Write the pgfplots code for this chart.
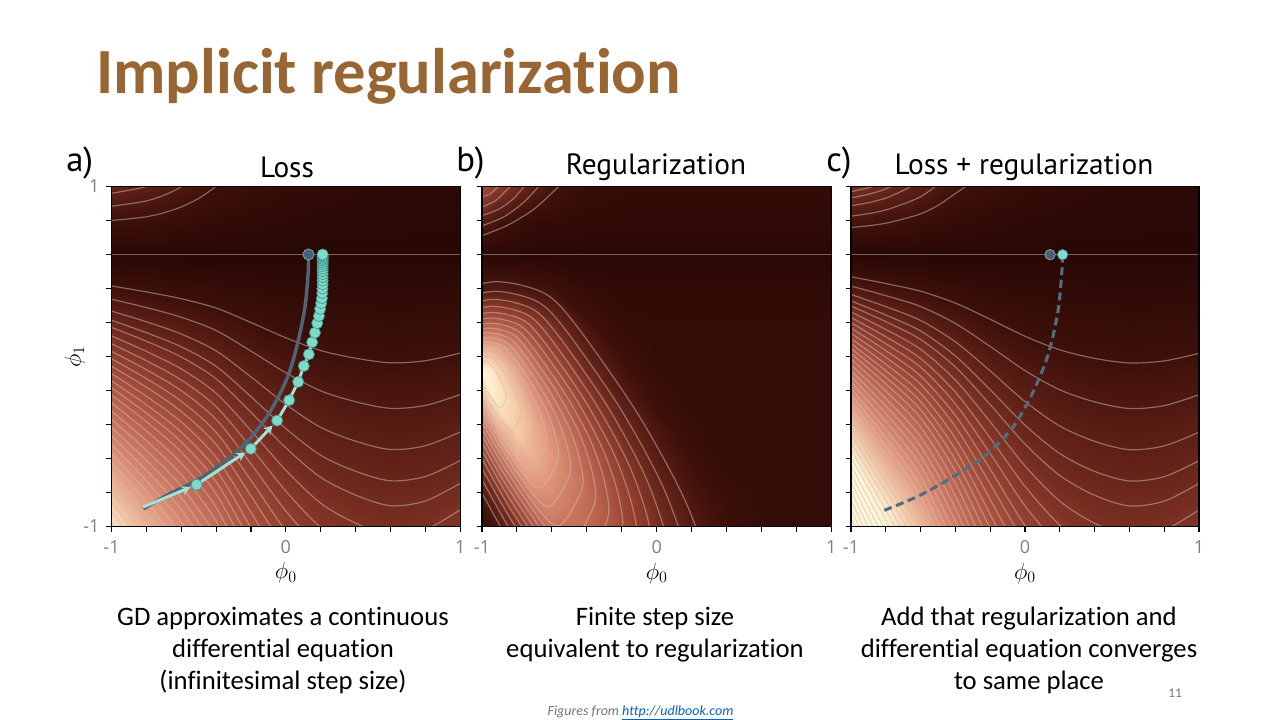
\documentclass[border=0pt]{standalone}
\usepackage{fontspec}
\usepackage{pgfplots}
\usepackage{pgfplotstable}
\pgfplotsset{compat=1.18}
\usetikzlibrary{arrows.meta}
\setmainfont[Ligatures=NoCommon]{Carlito}
\newfontfamily\panelfont{PT Sans}
\newfontfamily\tickfont{Open Sans}

\definecolor{titlebrown}{RGB}{153,102,51}
\definecolor{contourgray}{RGB}{200,190,188}
\definecolor{tickgray}{RGB}{128,128,128}
\definecolor{gdcyan}{RGB}{128,218,202}
\definecolor{gdcyanedge}{RGB}{62,150,140}
\definecolor{gdline}{RGB}{165,226,214}
\definecolor{odeblue}{RGB}{80,100,118}
\definecolor{odedot}{RGB}{70,98,122}
\definecolor{odedotedge}{RGB}{140,155,168}
\definecolor{dashblue}{RGB}{84,108,128}
\definecolor{linkblue}{RGB}{5,99,193}
\definecolor{footgray}{RGB}{118,118,118}

% loss landscape on a grid (phi0, phi1, shade level)
\pgfplotstableread[row sep=\\]{
x y c\\
-1 -1 8.65\\ -0.9 -1 7.88\\ -0.8 -1 7.27\\ -0.6 -1 6.15\\ -0.4 -1 5.08\\ -0.2 -1 4.00\\ 0 -1 3.27\\ 0.2 -1 2.83\\ 0.4 -1 2.62\\ 0.6 -1 2.51\\ 0.8 -1 2.56\\ 1 -1 2.76\\
-1 -0.9 8.11\\ -0.9 -0.9 7.39\\ -0.8 -0.9 6.82\\ -0.6 -0.9 5.77\\ -0.4 -0.9 4.76\\ -0.2 -0.9 3.75\\ 0 -0.9 3.06\\ 0.2 -0.9 2.65\\ 0.4 -0.9 2.46\\ 0.6 -0.9 2.35\\ 0.8 -0.9 2.40\\ 1 -0.9 2.59\\
-1 -0.8 7.57\\ -0.9 -0.8 6.90\\ -0.8 -0.8 6.36\\ -0.6 -0.8 5.38\\ -0.4 -0.8 4.44\\ -0.2 -0.8 3.50\\ 0 -0.8 2.86\\ 0.2 -0.8 2.48\\ 0.4 -0.8 2.30\\ 0.6 -0.8 2.20\\ 0.8 -0.8 2.24\\ 1 -0.8 2.41\\
-1 -0.6 6.49\\ -0.9 -0.6 5.91\\ -0.8 -0.6 5.45\\ -0.6 -0.6 4.62\\ -0.4 -0.6 3.81\\ -0.2 -0.6 3.00\\ 0 -0.6 2.45\\ 0.2 -0.6 2.12\\ 0.4 -0.6 1.97\\ 0.6 -0.6 1.88\\ 0.8 -0.6 1.92\\ 1 -0.6 2.07\\
-1 -0.4 5.41\\ -0.9 -0.4 4.93\\ -0.8 -0.4 4.55\\ -0.6 -0.4 3.85\\ -0.4 -0.4 3.17\\ -0.2 -0.4 2.50\\ 0 -0.4 2.04\\ 0.2 -0.4 1.77\\ 0.4 -0.4 1.64\\ 0.6 -0.4 1.57\\ 0.8 -0.4 1.60\\ 1 -0.4 1.72\\
-1 -0.2 4.32\\ -0.9 -0.2 3.94\\ -0.8 -0.2 3.64\\ -0.6 -0.2 3.08\\ -0.4 -0.2 2.54\\ -0.2 -0.2 2.00\\ 0 -0.2 1.63\\ 0.2 -0.2 1.42\\ 0.4 -0.2 1.31\\ 0.6 -0.2 1.26\\ 0.8 -0.2 1.28\\ 1 -0.2 1.38\\
-1 0 3.24\\ -0.9 0 2.96\\ -0.8 0 2.73\\ -0.6 0 2.31\\ -0.4 0 1.90\\ -0.2 0 1.50\\ 0 0 1.22\\ 0.2 0 1.06\\ 0.4 0 0.98\\ 0.6 0 0.94\\ 0.8 0 0.96\\ 1 0 1.03\\
-1 0.2 2.16\\ -0.9 0.2 1.97\\ -0.8 0.2 1.82\\ -0.6 0.2 1.54\\ -0.4 0.2 1.27\\ -0.2 0.2 1.00\\ 0 0.2 0.82\\ 0.2 0.2 0.71\\ 0.4 0.2 0.66\\ 0.6 0.2 0.63\\ 0.8 0.2 0.64\\ 1 0.2 0.69\\
-1 0.4 1.08\\ -0.9 0.4 0.99\\ -0.8 0.4 0.91\\ -0.6 0.4 0.77\\ -0.4 0.4 0.63\\ -0.2 0.4 0.50\\ 0 0.4 0.41\\ 0.2 0.4 0.35\\ 0.4 0.4 0.33\\ 0.6 0.4 0.31\\ 0.8 0.4 0.32\\ 1 0.4 0.34\\
-1 0.6 0\\ -0.9 0.6 0\\ -0.8 0.6 0\\ -0.6 0.6 0\\ -0.4 0.6 0\\ -0.2 0.6 0\\ 0 0.6 0\\ 0.2 0.6 0\\ 0.4 0.6 0\\ 0.6 0.6 0\\ 0.8 0.6 0\\ 1 0.6 0\\
-1 0.8 1.00\\ -0.9 0.8 0.95\\ -0.8 0.8 0.90\\ -0.6 0.8 0.71\\ -0.4 0.8 0.50\\ -0.2 0.8 0.36\\ 0 0.8 0.27\\ 0.2 0.8 0.20\\ 0.4 0.8 0.15\\ 0.6 0.8 0.13\\ 0.8 0.8 0.11\\ 1 0.8 0.09\\
-1 1 2.00\\ -0.9 1 1.90\\ -0.8 1 1.80\\ -0.6 1 1.43\\ -0.4 1 1.00\\ -0.2 1 0.73\\ 0 1 0.53\\ 0.2 1 0.40\\ 0.4 1 0.31\\ 0.6 1 0.25\\ 0.8 1 0.21\\ 1 1 0.18\\
}\lossA

% regularization term on a grid
\pgfplotstableread[row sep=\\]{
x y c\\
-1 -1 0.7\\ -0.95 -1 1.0\\ -0.9 -1 1.4\\ -0.8 -1 2.6\\ -0.7 -1 4.1\\ -0.6 -1 5.35\\ -0.4 -1 4.9\\ -0.2 -1 3.7\\ 0 -1 2.5\\ 0.2 -1 1.6\\ 0.4 -1 0.97\\ 0.7 -1 0.5\\ 1 -1 0.5\\
-1 -0.8 1.5\\ -0.95 -0.8 2.1\\ -0.9 -0.8 2.85\\ -0.8 -0.8 4.6\\ -0.7 -0.8 6.2\\ -0.6 -0.8 6.2\\ -0.4 -0.8 5.0\\ -0.2 -0.8 3.45\\ 0 -0.8 2.2\\ 0.2 -0.8 1.3\\ 0.4 -0.8 0.75\\ 0.7 -0.8 0.5\\ 1 -0.8 0.5\\
-1 -0.6 3.0\\ -0.95 -0.6 4.0\\ -0.9 -0.6 5.0\\ -0.8 -0.6 6.95\\ -0.7 -0.6 7.15\\ -0.6 -0.6 6.5\\ -0.4 -0.6 4.6\\ -0.2 -0.6 2.9\\ 0 -0.6 1.7\\ 0.2 -0.6 0.95\\ 0.4 -0.6 0.5\\ 0.7 -0.6 0.5\\ 1 -0.6 0.5\\
-1 -0.45 4.7\\ -0.95 -0.45 5.85\\ -0.9 -0.45 7.0\\ -0.8 -0.45 7.9\\ -0.7 -0.45 7.2\\ -0.6 -0.45 6.2\\ -0.4 -0.45 4.0\\ -0.2 -0.45 2.4\\ 0 -0.45 1.35\\ 0.2 -0.45 0.73\\ 0.4 -0.45 0.5\\ 0.7 -0.45 0.5\\ 1 -0.45 0.5\\
-1 -0.3 6.7\\ -0.95 -0.3 7.85\\ -0.9 -0.3 8.5\\ -0.8 -0.3 7.9\\ -0.7 -0.3 6.75\\ -0.6 -0.3 5.5\\ -0.4 -0.3 3.35\\ -0.2 -0.3 1.9\\ 0 -0.3 1.0\\ 0.2 -0.3 0.55\\ 0.4 -0.3 0.5\\ 0.7 -0.3 0.5\\ 1 -0.3 0.5\\
-1 -0.2 8.0\\ -0.95 -0.2 8.8\\ -0.9 -0.2 8.6\\ -0.8 -0.2 7.5\\ -0.7 -0.2 6.2\\ -0.6 -0.2 4.9\\ -0.4 -0.2 2.9\\ -0.2 -0.2 1.5\\ 0 -0.2 0.8\\ 0.2 -0.2 0.5\\ 0.4 -0.2 0.5\\ 0.7 -0.2 0.5\\ 1 -0.2 0.5\\
-1 -0.08 9.0\\ -0.95 -0.08 8.7\\ -0.9 -0.08 8.1\\ -0.8 -0.08 6.8\\ -0.7 -0.08 5.4\\ -0.6 -0.08 4.2\\ -0.4 -0.08 2.3\\ -0.2 -0.08 1.2\\ 0 -0.08 0.6\\ 0.2 -0.08 0.5\\ 0.4 -0.08 0.5\\ 0.7 -0.08 0.5\\ 1 -0.08 0.5\\
-1 0.05 7.2\\ -0.95 0.05 7.15\\ -0.9 0.05 6.85\\ -0.8 0.05 5.7\\ -0.7 0.05 4.4\\ -0.6 0.05 3.3\\ -0.4 0.05 1.7\\ -0.2 0.05 0.85\\ 0 0.05 0.5\\ 0.2 0.05 0.5\\ 0.4 0.05 0.5\\ 0.7 0.05 0.5\\ 1 0.05 0.5\\
-1 0.2 4.4\\ -0.95 0.2 4.45\\ -0.9 0.2 4.4\\ -0.8 0.2 3.9\\ -0.7 0.2 3.2\\ -0.6 0.2 2.4\\ -0.4 0.2 1.15\\ -0.2 0.2 0.55\\ 0 0.2 0.5\\ 0.2 0.2 0.5\\ 0.4 0.2 0.5\\ 0.7 0.2 0.5\\ 1 0.2 0.5\\
-1 0.4 1.5\\ -0.95 0.4 1.5\\ -0.9 0.4 1.5\\ -0.8 0.4 1.4\\ -0.7 0.4 1.2\\ -0.6 0.4 1.0\\ -0.4 0.4 0.55\\ -0.2 0.4 0.4\\ 0 0.4 0.4\\ 0.2 0.4 0.4\\ 0.4 0.4 0.4\\ 0.7 0.4 0.4\\ 1 0.4 0.4\\
-1 0.6 0.1\\ -0.95 0.6 0.1\\ -0.9 0.6 0.1\\ -0.8 0.6 0.1\\ -0.7 0.6 0.1\\ -0.6 0.6 0.1\\ -0.4 0.6 0.1\\ -0.2 0.6 0.1\\ 0 0.6 0.1\\ 0.2 0.6 0.1\\ 0.4 0.6 0.1\\ 0.7 0.6 0.1\\ 1 0.6 0.1\\
-1 0.8 1.75\\ -0.95 0.8 1.45\\ -0.9 0.8 1.15\\ -0.8 0.8 0.8\\ -0.7 0.8 0.55\\ -0.6 0.8 0.5\\ -0.4 0.8 0.4\\ -0.2 0.8 0.4\\ 0 0.8 0.4\\ 0.2 0.8 0.4\\ 0.4 0.8 0.4\\ 0.7 0.8 0.4\\ 1 0.8 0.4\\
-1 1 3.7\\ -0.95 1 3.3\\ -0.9 1 2.9\\ -0.8 1 2.25\\ -0.7 1 1.7\\ -0.6 1 1.2\\ -0.4 1 0.6\\ -0.2 1 0.5\\ 0 1 0.5\\ 0.2 1 0.5\\ 0.4 1 0.5\\ 0.7 1 0.5\\ 1 1 0.5\\
}\regB

% loss plus regularization on a grid
\pgfplotstableread[row sep=\\]{
x y c\\
-1 -1 9\\ -0.9 -1 9\\ -0.8 -1 9\\ -0.6 -1 7.44\\ -0.4 -1 5.61\\ -0.2 -1 4.21\\ 0 -1 3.33\\ 0.2 -1 2.86\\ 0.4 -1 2.62\\ 0.6 -1 2.51\\ 0.8 -1 2.56\\ 1 -1 2.76\\
-1 -0.9 9\\ -0.9 -0.9 9\\ -0.8 -0.9 8.82\\ -0.6 -0.9 6.98\\ -0.4 -0.9 5.26\\ -0.2 -0.9 3.95\\ 0 -0.9 3.13\\ 0.2 -0.9 2.68\\ 0.4 -0.9 2.46\\ 0.6 -0.9 2.35\\ 0.8 -0.9 2.40\\ 1 -0.9 2.59\\
-1 -0.8 9\\ -0.9 -0.8 9\\ -0.8 -0.8 8.24\\ -0.6 -0.8 6.51\\ -0.4 -0.8 4.91\\ -0.2 -0.8 3.68\\ 0 -0.8 2.92\\ 0.2 -0.8 2.50\\ 0.4 -0.8 2.30\\ 0.6 -0.8 2.20\\ 0.8 -0.8 2.24\\ 1 -0.8 2.41\\
-1 -0.6 9\\ -0.9 -0.6 8.00\\ -0.8 -0.6 7.06\\ -0.6 -0.6 5.58\\ -0.4 -0.6 4.21\\ -0.2 -0.6 3.16\\ 0 -0.6 2.50\\ 0.2 -0.6 2.14\\ 0.4 -0.6 1.97\\ 0.6 -0.6 1.88\\ 0.8 -0.6 1.92\\ 1 -0.6 2.07\\
-1 -0.4 7.69\\ -0.9 -0.4 6.67\\ -0.8 -0.4 5.88\\ -0.6 -0.4 4.65\\ -0.4 -0.4 3.51\\ -0.2 -0.4 2.63\\ 0 -0.4 2.08\\ 0.2 -0.4 1.79\\ 0.4 -0.4 1.64\\ 0.6 -0.4 1.57\\ 0.8 -0.4 1.60\\ 1 -0.4 1.72\\
-1 -0.2 6.15\\ -0.9 -0.2 5.33\\ -0.8 -0.2 4.71\\ -0.6 -0.2 3.72\\ -0.4 -0.2 2.81\\ -0.2 -0.2 2.11\\ 0 -0.2 1.67\\ 0.2 -0.2 1.43\\ 0.4 -0.2 1.31\\ 0.6 -0.2 1.26\\ 0.8 -0.2 1.28\\ 1 -0.2 1.38\\
-1 0 4.62\\ -0.9 0 4.00\\ -0.8 0 3.53\\ -0.6 0 2.79\\ -0.4 0 2.11\\ -0.2 0 1.58\\ 0 0 1.25\\ 0.2 0 1.07\\ 0.4 0 0.98\\ 0.6 0 0.94\\ 0.8 0 0.96\\ 1 0 1.03\\
-1 0.2 3.08\\ -0.9 0.2 2.67\\ -0.8 0.2 2.35\\ -0.6 0.2 1.86\\ -0.4 0.2 1.40\\ -0.2 0.2 1.05\\ 0 0.2 0.83\\ 0.2 0.2 0.71\\ 0.4 0.2 0.66\\ 0.6 0.2 0.63\\ 0.8 0.2 0.64\\ 1 0.2 0.69\\
-1 0.4 1.54\\ -0.9 0.4 1.33\\ -0.8 0.4 1.18\\ -0.6 0.4 0.93\\ -0.4 0.4 0.70\\ -0.2 0.4 0.53\\ 0 0.4 0.42\\ 0.2 0.4 0.36\\ 0.4 0.4 0.33\\ 0.6 0.4 0.31\\ 0.8 0.4 0.32\\ 1 0.4 0.34\\
-1 0.6 0\\ -0.9 0.6 0\\ -0.8 0.6 0\\ -0.6 0.6 0\\ -0.4 0.6 0\\ -0.2 0.6 0\\ 0 0.6 0\\ 0.2 0.6 0\\ 0.4 0.6 0\\ 0.6 0.6 0\\ 0.8 0.6 0\\ 1 0.6 0\\
-1 0.8 1.25\\ -0.9 0.8 1.18\\ -0.8 0.8 1.08\\ -0.6 0.8 0.83\\ -0.4 0.8 0.56\\ -0.2 0.8 0.38\\ 0 0.8 0.27\\ 0.2 0.8 0.20\\ 0.4 0.8 0.15\\ 0.6 0.8 0.13\\ 0.8 0.8 0.11\\ 1 0.8 0.09\\
-1 1 2.50\\ -0.9 1 2.35\\ -0.8 1 2.16\\ -0.6 1 1.67\\ -0.4 1 1.11\\ -0.2 1 0.77\\ 0 1 0.53\\ 0.2 1 0.40\\ 0.4 1 0.31\\ 0.6 1 0.25\\ 0.8 1 0.21\\ 1 1 0.18\\
}\sumC

\pgfplotsset{
  colormap={heat}{rgb255(0pt)=(40,7,4); rgb255(1pt)=(62,16,10); rgb255(2pt)=(100,35,24); rgb255(3pt)=(140,58,42); rgb255(4pt)=(170,82,62); rgb255(5pt)=(194,108,86); rgb255(6pt)=(215,135,110); rgb255(7pt)=(234,168,138); rgb255(8pt)=(247,206,170); rgb255(9pt)=(255,245,215)},
  landscape/.style={
    scale only axis, width=261.5pt, height=255pt,
    xmin=-1, xmax=1, ymin=-1, ymax=1,
    axis on top,
    colormap name=heat, point meta min=0, point meta max=9,
    xtick={-1,-0.8,-0.6,-0.4,-0.2,0,0.2,0.4,0.6,0.8,1},
    ytick={-1,-0.8,-0.6,-0.4,-0.2,0,0.2,0.4,0.6,0.8,1},
    xticklabels={-1,{},{},{},{},0,{},{},{},{},1},
    yticklabels={-1,{},{},{},{},{},{},{},{},{},1},
    tick align=outside, tick pos=left, major tick length=4pt,
    tick style={black, line width=0.8pt},
    axis line style={black, line width=0.9pt},
    ticklabel style={font=\tickfont\fontsize{13.5}{15}\selectfont, text=tickgray},
    xticklabel style={yshift=-3pt},
    yticklabel style={xshift=-1.5pt},
    xlabel={$\phi_0$},
    label style={font=\fontsize{18}{20}\selectfont},
    xlabel style={at={(axis description cs:0.5,-0.137)}, anchor=center},
    ylabel style={at={(axis description cs:-0.105,0.5)}, anchor=center},
  },
  noylabels/.style={yticklabels={}, ylabel={}},
  ctr/.style={draw=contourgray, draw opacity=0.5, line width=0.9pt, smooth, mark=none},
}

\begin{document}
\begin{tikzpicture}
\begin{scope}[x=0.75pt,y=-0.75pt]
\path[use as bounding box] (0,0) rectangle (1280,720);
\fill[white] (0,0) rectangle (1280,720);
\node[anchor=base west, inner sep=0pt, text=titlebrown, font=\fontsize{48.3}{50}\selectfont\bfseries] at (96,93.5) {Implicit regularization};
\node[anchor=base west, inner sep=0pt, font=\panelfont\fontsize{26}{28}\selectfont] at (66,171.7) {a)};
\node[anchor=base west, inner sep=0pt, font=\panelfont\fontsize{26}{28}\selectfont] at (456,171.7) {b)};
\node[anchor=base west, inner sep=0pt, font=\panelfont\fontsize{26}{28}\selectfont] at (826,171.7) {c)};
\node[anchor=base, inner sep=0pt, font=\panelfont\fontsize{22}{24}\selectfont] at (287,178) {Loss};
\node[anchor=base, inner sep=0pt, font=\panelfont\fontsize{22}{24}\selectfont] at (656,175) {Regularization};
\node[anchor=base, inner sep=0pt, font=\panelfont\fontsize{22}{24}\selectfont] at (1024,175) {Loss + regularization};
\begin{scope}[every node/.style={anchor=base, inner sep=0pt, font=\fontsize{20}{24}\selectfont}]
\node at (283,625) {GD approximates a continuous};
\node at (283,657) {differential equation};
\node at (283,689) {(infinitesimal step size)};
\node at (655,625) {Finite step size};
\node at (655,657) {equivalent to regularization};
\node at (1029,625) {Add that regularization and};
\node at (1029,657) {differential equation converges};
\node at (1029,689) {to same place};
\end{scope}
\node[anchor=base, inner sep=0pt, font=\itshape\fontsize{10.5}{12}\selectfont] at (640.5,715) {\textcolor{footgray}{Figures from }\textcolor{linkblue}{\underline{http://udlbook.com}}};
\node[anchor=base, inner sep=0pt, text=footgray, font=\fontsize{10}{12}\selectfont] at (1175,697) {11};
\end{scope}

% ---------------- a) Loss ----------------
\begin{axis}[landscape, ylabel={$\phi_1$}, at={(83.625pt,-394.875pt)}, anchor=south west]
\addplot[surf, shader=interp, mesh/rows=12, mesh/cols=12, point meta=explicit] table[x=x, y=y, meta=c] {\lossA};
\addplot[ctr] coordinates {(-1,0.6) (1,0.6)};
\addplot[ctr] coordinates {(-1,0.415) (-0.8,0.38) (-0.6,0.34) (-0.4,0.285) (-0.2,0.20) (0,0.11) (0.2,0.035) (0.4,-0.01) (0.6,-0.037) (0.8,-0.025) (1,0.02)};
\addplot[ctr] coordinates {(-1,0.337) (-0.8,0.288) (-0.6,0.231) (-0.4,0.153) (-0.2,0.032) (0,-0.096) (0.2,-0.202) (0.4,-0.266) (0.6,-0.305) (0.8,-0.288) (1,-0.224)};
\addplot[ctr] coordinates {(-1,0.267) (-0.8,0.204) (-0.6,0.132) (-0.4,0.033) (-0.2,-0.12) (0,-0.282) (0.2,-0.417) (0.4,-0.498) (0.6,-0.547) (0.8,-0.525) (1,-0.444)};
\addplot[ctr] coordinates {(-1,0.213) (-0.8,0.14) (-0.6,0.057) (-0.4,-0.058) (-0.2,-0.236) (0,-0.424) (0.2,-0.581) (0.4,-0.675) (0.6,-0.731) (0.8,-0.706) (1,-0.612)};
\addplot[ctr] coordinates {(-1,0.171) (-0.8,0.09) (-0.6,-0.003) (-0.4,-0.131) (-0.2,-0.328) (0,-0.537) (0.2,-0.711) (0.4,-0.815) (0.6,-0.878) (0.8,-0.85) (1,-0.746)};
\addplot[ctr] coordinates {(-1,0.121) (-0.8,0.03) (-0.6,-0.073) (-0.4,-0.216) (-0.2,-0.436) (0,-0.669) (0.2,-0.863) (0.4,-0.98) (0.6,-1.05) (0.8,-1.019) (1,-0.902)};
\addplot[ctr] coordinates {(-1,0.075) (-0.8,-0.025) (-0.6,-0.138) (-0.4,-0.295) (-0.2,-0.536) (0,-0.792) (0.2,-1.005) (0.4,-1.13)};
\addplot[ctr] coordinates {(-1,0.03) (-0.8,-0.078) (-0.6,-0.201) (-0.4,-0.37) (-0.2,-0.632) (0,-0.909) (0.2,-1.14)};
\addplot[ctr] coordinates {(-1,-0.014) (-0.8,-0.13) (-0.6,-0.263) (-0.4,-0.446) (-0.2,-0.728) (0,-1.027) (0.2,-1.276)};
\addplot[ctr] coordinates {(-1,-0.057) (-0.8,-0.181) (-0.6,-0.323) (-0.4,-0.518) (-0.2,-0.82) (0,-1.14)};
\addplot[ctr] coordinates {(-1,-0.101) (-0.8,-0.234) (-0.6,-0.385) (-0.4,-0.594) (-0.2,-0.916) (0,-1.257)};
\addplot[ctr] coordinates {(-1,-0.144) (-0.8,-0.284) (-0.6,-0.445) (-0.4,-0.666) (-0.2,-1.008) (0,-1.37)};
\addplot[ctr] coordinates {(-1,-0.184) (-0.8,-0.333) (-0.6,-0.502) (-0.4,-0.736) (-0.2,-1.096)};
\addplot[ctr] coordinates {(-1,-0.227) (-0.8,-0.383) (-0.6,-0.562) (-0.4,-0.808) (-0.2,-1.188)};
\addplot[ctr] coordinates {(-1,-0.273) (-0.8,-0.438) (-0.6,-0.627) (-0.4,-0.887) (-0.2,-1.288)};
\addplot[ctr] coordinates {(-1,-0.321) (-0.8,-0.496) (-0.6,-0.695) (-0.4,-0.969) (-0.2,-1.392)};
\addplot[ctr] coordinates {(-1,-0.369) (-0.8,-0.553) (-0.6,-0.762) (-0.4,-1.051)};
\addplot[ctr] coordinates {(-1,-0.418) (-0.8,-0.61) (-0.6,-0.83) (-0.4,-1.133)};
\addplot[ctr] coordinates {(-1,-0.467) (-0.8,-0.669) (-0.6,-0.90) (-0.4,-1.218)};
\addplot[ctr] coordinates {(-1,-0.519) (-0.8,-0.731) (-0.6,-0.973) (-0.4,-1.306)};
\addplot[ctr] coordinates {(-1,-0.571) (-0.8,-0.793) (-0.6,-1.046)};
\addplot[ctr] coordinates {(-1,-0.625) (-0.8,-0.856) (-0.6,-1.121)};
\addplot[ctr] coordinates {(-1,-0.68) (-0.8,-0.922) (-0.6,-1.199)};
\addplot[ctr] coordinates {(-1,-0.736) (-0.8,-0.988) (-0.6,-1.277)};
\addplot[ctr] coordinates {(-1,-0.793) (-0.8,-1.057)};
\addplot[ctr] coordinates {(-1,-0.852) (-0.8,-1.127)};
\addplot[ctr] coordinates {(-1,-0.911) (-0.8,-1.197)};
\addplot[ctr] coordinates {(-1,-0.973) (-0.8,-1.27)};
\addplot[ctr] coordinates {(-1,0.8) (-0.9,0.81) (-0.8,0.822) (-0.7,0.845) (-0.6,0.88) (-0.5,0.93) (-0.4,1.0) (-0.3,1.07)};
\addplot[ctr] coordinates {(-1,0.884) (-0.9,0.898) (-0.8,0.915) (-0.7,0.948) (-0.6,0.998) (-0.5,1.069)};
\addplot[ctr] coordinates {(-1,0.96) (-0.9,0.978) (-0.8,1.0) (-0.7,1.041)};
% continuous path
\addplot[odeblue, line width=2.6pt, smooth, mark=none] coordinates {(-0.818,-0.896) (-0.665,-0.807) (-0.493,-0.719) (-0.340,-0.611) (-0.206,-0.483) (-0.110,-0.356) (-0.033,-0.218) (0.024,-0.081) (0.072,0.096) (0.110,0.293) (0.128,0.489) (0.130,0.600)};
\addplot[only marks, mark=*, mark size=4.2pt, mark options={fill=odedot, draw=odedotedge, line width=0.6pt}] coordinates {(0.130,0.600)};
% gradient descent steps
\addplot[gdline, line width=2.2pt, -{Stealth[length=6.5pt,width=7pt]}, shorten >=5pt] coordinates {(-0.82,-0.886) (-0.512,-0.754)};
\addplot[gdline, line width=2.2pt, -{Stealth[length=6.5pt,width=7pt]}, shorten >=5pt] coordinates {(-0.512,-0.754) (-0.201,-0.543)};
\addplot[gdline, line width=2.2pt, -{Stealth[length=6.5pt,width=7pt]}, shorten >=5pt] coordinates {(-0.201,-0.543) (-0.050,-0.377)};
\addplot[gdline, line width=2.2pt, mark=none] coordinates {(-0.050,-0.377) (0.019,-0.257) (0.071,-0.149) (0.103,-0.056) (0.132,0.013) (0.151,0.084) (0.167,0.140) (0.180,0.196) (0.190,0.239) (0.197,0.280) (0.203,0.314) (0.207,0.343) (0.209,0.373) (0.210,0.400) (0.211,0.600)};
\addplot[only marks, mark=*, mark size=4.2pt, mark options={fill=gdcyan, draw=gdcyanedge, line width=0.5pt}] coordinates {(-0.512,-0.754) (-0.201,-0.543) (-0.050,-0.377) (0.019,-0.257) (0.071,-0.149) (0.103,-0.056) (0.132,0.013) (0.151,0.084) (0.167,0.140) (0.180,0.196) (0.190,0.239) (0.197,0.280) (0.203,0.314) (0.207,0.343) (0.209,0.373) (0.210,0.400) (0.211,0.425) (0.211,0.447) (0.211,0.467) (0.211,0.485) (0.211,0.502) (0.211,0.517) (0.211,0.531) (0.211,0.543) (0.211,0.554) (0.211,0.564) (0.211,0.573) (0.211,0.581) (0.211,0.588) (0.211,0.594) (0.211,0.600)};
\end{axis}

% ---------------- b) Regularization ----------------
\begin{axis}[landscape, noylabels, width=262pt, at={(361.5pt,-395pt)}, anchor=south west]
\addplot[surf, shader=interp, mesh/rows=13, mesh/cols=13, point meta=explicit] table[x=x, y=y, meta=c] {\regB};
\addplot[ctr] coordinates {(-1,0.6) (1,0.6)};
\addplot[ctr] coordinates {(-1.22,0.369) (-0.921,0.441) (-0.643,0.373) (-0.461,0.184) (-0.109,-0.335) (0.163,-0.847) (0.322,-1.322) (0.352,-1.732) (0.056,-2.235) (-0.234,-2.019) (-0.729,-1.283) (-1.013,-0.778) (-1.296,-0.225)};
\addplot[ctr] coordinates {(-1.196,0.320) (-0.930,0.384) (-0.682,0.323) (-0.520,0.155) (-0.207,-0.307) (0.035,-0.763) (0.177,-1.185) (0.203,-1.550) (-0.060,-1.998) (-0.318,-1.806) (-0.759,-1.151) (-1.012,-0.701) (-1.263,-0.209)};
\addplot[ctr] coordinates {(-1.176,0.279) (-0.937,0.337) (-0.714,0.282) (-0.569,0.131) (-0.287,-0.284) (-0.070,-0.694) (0.058,-1.074) (0.082,-1.402) (-0.155,-1.804) (-0.387,-1.631) (-0.783,-1.042) (-1.010,-0.638) (-1.237,-0.196)};
\addplot[ctr] coordinates {(-1.159,0.244) (-0.943,0.296) (-0.742,0.247) (-0.611,0.111) (-0.357,-0.264) (-0.160,-0.634) (-0.046,-0.977) (-0.024,-1.273) (-0.238,-1.636) (-0.447,-1.480) (-0.804,-0.949) (-1.009,-0.584) (-1.214,-0.185)};
\addplot[ctr] coordinates {(-1.144,0.213) (-0.948,0.260) (-0.767,0.216) (-0.648,0.092) (-0.418,-0.247) (-0.241,-0.581) (-0.137,-0.891) (-0.117,-1.159) (-0.310,-1.487) (-0.500,-1.346) (-0.823,-0.866) (-1.008,-0.536) (-1.193,-0.175)};
\addplot[ctr] coordinates {(-1.130,0.185) (-0.953,0.227) (-0.789,0.187) (-0.682,0.076) (-0.474,-0.230) (-0.314,-0.533) (-0.220,-0.813) (-0.202,-1.055) (-0.377,-1.351) (-0.548,-1.224) (-0.840,-0.790) (-1.008,-0.492) (-1.175,-0.166)};
\addplot[ctr] coordinates {(-1.117,0.158) (-0.958,0.197) (-0.810,0.161) (-0.714,0.060) (-0.527,-0.215) (-0.382,-0.487) (-0.298,-0.740) (-0.282,-0.957) (-0.439,-1.224) (-0.593,-1.110) (-0.856,-0.719) (-1.007,-0.451) (-1.157,-0.157)};
\addplot[ctr] coordinates {(-1.105,0.134) (-0.962,0.168) (-0.830,0.136) (-0.743,0.046) (-0.576,-0.201) (-0.446,-0.445) (-0.371,-0.671) (-0.356,-0.866) (-0.497,-1.106) (-0.635,-1.003) (-0.871,-0.653) (-1.006,-0.412) (-1.141,-0.149)};
\addplot[ctr] coordinates {(-1.093,0.110) (-0.967,0.140) (-0.849,0.112) (-0.772,0.032) (-0.623,-0.188) (-0.508,-0.404) (-0.441,-0.605) (-0.428,-0.779) (-0.553,-0.992) (-0.676,-0.900) (-0.885,-0.589) (-1.005,-0.375) (-1.125,-0.141)};
\addplot[ctr] coordinates {(-1.082,0.087) (-0.971,0.113) (-0.868,0.088) (-0.800,0.018) (-0.669,-0.175) (-0.569,-0.365) (-0.510,-0.541) (-0.498,-0.693) (-0.608,-0.880) (-0.716,-0.799) (-0.899,-0.526) (-1.005,-0.339) (-1.110,-0.134)};
\addplot[ctr] coordinates {(-1.071,0.064) (-0.975,0.087) (-0.885,0.065) (-0.827,0.005) (-0.714,-0.162) (-0.627,-0.326) (-0.576,-0.479) (-0.566,-0.610) (-0.661,-0.772) (-0.754,-0.702) (-0.913,-0.466) (-1.004,-0.304) (-1.095,-0.127)};
\addplot[ctr] coordinates {(-1.059,0.041) (-0.979,0.061) (-0.904,0.042) (-0.854,-0.009) (-0.759,-0.149) (-0.686,-0.287) (-0.643,-0.415) (-0.635,-0.526) (-0.715,-0.662) (-0.793,-0.604) (-0.927,-0.405) (-1.004,-0.268) (-1.080,-0.119)};
\addplot[ctr] coordinates {(-1.048,0.018) (-0.983,0.034) (-0.922,0.019) (-0.882,-0.022) (-0.806,-0.136) (-0.746,-0.247) (-0.712,-0.351) (-0.705,-0.440) (-0.770,-0.550) (-0.833,-0.503) (-0.941,-0.342) (-1.003,-0.232) (-1.065,-0.112)};
\addplot[ctr] coordinates {(-1.036,-0.007) (-0.987,0.005) (-0.942,-0.006) (-0.912,-0.037) (-0.855,-0.122) (-0.810,-0.205) (-0.785,-0.282) (-0.780,-0.349) (-0.828,-0.431) (-0.875,-0.396) (-0.956,-0.276) (-1.002,-0.194) (-1.048,-0.104)};
\addplot[ctr] coordinates {(-1.022,-0.035) (-0.992,-0.027) (-0.964,-0.034) (-0.946,-0.053) (-0.910,-0.106) (-0.883,-0.157) (-0.866,-0.205) (-0.863,-0.247) (-0.893,-0.298) (-0.923,-0.276) (-0.973,-0.202) (-1.001,-0.150) (-1.030,-0.095)};
\addplot[ctr] coordinates {(-1,0.712) (-0.85,0.775) (-0.7,0.87) (-0.562,1)};
\addplot[ctr] coordinates {(-1,0.77) (-0.88,0.82) (-0.77,0.9) (-0.676,1)};
\addplot[ctr] coordinates {(-1,0.83) (-0.9,0.87) (-0.82,0.93) (-0.76,1)};
\addplot[ctr] coordinates {(-1,0.88) (-0.92,0.92) (-0.84,1)};
\addplot[ctr] coordinates {(-1,0.94) (-0.95,0.96) (-0.91,1)};
\end{axis}

% ---------------- c) Loss + regularization ----------------
\begin{axis}[landscape, noylabels, width=261pt, at={(638.25pt,-395pt)}, anchor=south west]
\addplot[surf, shader=interp, mesh/rows=12, mesh/cols=12, point meta=explicit] table[x=x, y=y, meta=c] {\sumC};
\addplot[ctr] coordinates {(-1,0.6) (1,0.6)};
\addplot[ctr] coordinates {(-1,0.47) (-0.8,0.43) (-0.6,0.385) (-0.4,0.315) (-0.2,0.22) (0,0.12) (0.2,0.04) (0.4,-0.01) (0.6,-0.037) (0.8,-0.025) (1,0.02)};
\addplot[ctr] coordinates {(-1,0.415) (-0.8,0.359) (-0.6,0.295) (-0.4,0.195) (-0.2,0.06) (0,-0.082) (0.2,-0.195) (0.4,-0.266) (0.6,-0.305) (0.8,-0.288) (1,-0.224)};
\addplot[ctr] coordinates {(-1,0.366) (-0.8,0.294) (-0.6,0.213) (-0.4,0.087) (-0.2,-0.084) (0,-0.264) (0.2,-0.408) (0.4,-0.498) (0.6,-0.547) (0.8,-0.525) (1,-0.444)};
\addplot[ctr] coordinates {(-1,0.328) (-0.8,0.245) (-0.6,0.151) (-0.4,0.004) (-0.2,-0.194) (0,-0.403) (0.2,-0.570) (0.4,-0.675) (0.6,-0.731) (0.8,-0.706) (1,-0.612)};
\addplot[ctr] coordinates {(-1,0.298) (-0.8,0.206) (-0.6,0.101) (-0.4,-0.061) (-0.2,-0.282) (0,-0.514) (0.2,-0.699) (0.4,-0.815) (0.6,-0.878) (0.8,-0.85) (1,-0.746)};
\addplot[ctr] coordinates {(-1,0.263) (-0.8,0.16) (-0.6,0.043) (-0.4,-0.138) (-0.2,-0.384) (0,-0.643) (0.2,-0.850) (0.4,-0.98) (0.6,-1.05) (0.8,-1.019) (1,-0.902)};
\addplot[ctr] coordinates {(-1,0.231) (-0.8,0.117) (-0.6,-0.011) (-0.4,-0.209) (-0.2,-0.479) (0,-0.763) (0.2,-0.990) (0.4,-1.132)};
\addplot[ctr] coordinates {(-1,0.2) (-0.8,0.076) (-0.6,-0.062) (-0.4,-0.278) (-0.2,-0.570) (0,-0.878) (0.2,-1.125)};
\addplot[ctr] coordinates {(-1,0.168) (-0.8,0.036) (-0.6,-0.114) (-0.4,-0.346) (-0.2,-0.662) (0,-0.994) (0.2,-1.259)};
\addplot[ctr] coordinates {(-1,0.138) (-0.8,-0.004) (-0.6,-0.163) (-0.4,-0.412) (-0.2,-0.749) (0,-1.104)};
\addplot[ctr] coordinates {(-1,0.107) (-0.8,-0.044) (-0.6,-0.215) (-0.4,-0.480) (-0.2,-0.840) (0,-1.219)};
\addplot[ctr] coordinates {(-1,0.077) (-0.8,-0.083) (-0.6,-0.264) (-0.4,-0.546) (-0.2,-0.928) (0,-1.33)};
\addplot[ctr] coordinates {(-1,0.049) (-0.8,-0.121) (-0.6,-0.312) (-0.4,-0.608) (-0.2,-1.011)};
\addplot[ctr] coordinates {(-1,0.019) (-0.8,-0.16) (-0.6,-0.361) (-0.4,-0.674) (-0.2,-1.099)};
\addplot[ctr] coordinates {(-1,-0.014) (-0.8,-0.202) (-0.6,-0.415) (-0.4,-0.745) (-0.2,-1.194)};
\addplot[ctr] coordinates {(-1,-0.047) (-0.8,-0.247) (-0.6,-0.471) (-0.4,-0.819) (-0.2,-1.292)};
\addplot[ctr] coordinates {(-1,-0.081) (-0.8,-0.291) (-0.6,-0.527) (-0.4,-0.893) (-0.2,-1.391)};
\addplot[ctr] coordinates {(-1,-0.115) (-0.8,-0.335) (-0.6,-0.583) (-0.4,-0.968) (-0.2,-1.49)};
\addplot[ctr] coordinates {(-1,-0.15) (-0.8,-0.381) (-0.6,-0.641) (-0.4,-1.044)};
\addplot[ctr] coordinates {(-1,-0.187) (-0.8,-0.429) (-0.6,-0.701) (-0.4,-1.124)};
\addplot[ctr] coordinates {(-1,-0.223) (-0.8,-0.476) (-0.6,-0.761) (-0.4,-1.204)};
\addplot[ctr] coordinates {(-1,-0.261) (-0.8,-0.525) (-0.6,-0.823) (-0.4,-1.287)};
\addplot[ctr] coordinates {(-1,-0.3) (-0.8,-0.576) (-0.6,-0.888) (-0.4,-1.372)};
\addplot[ctr] coordinates {(-1,-0.339) (-0.8,-0.627) (-0.6,-0.952) (-0.4,-1.458)};
\addplot[ctr] coordinates {(-1,-0.379) (-0.8,-0.680) (-0.6,-1.019)};
\addplot[ctr] coordinates {(-1,-0.421) (-0.8,-0.735) (-0.6,-1.088)};
\addplot[ctr] coordinates {(-1,-0.462) (-0.8,-0.789) (-0.6,-1.157)};
\addplot[ctr] coordinates {(-1,-0.505) (-0.8,-0.845) (-0.6,-1.228)};
\addplot[ctr] coordinates {(-1,-0.549) (-0.8,-0.903) (-0.6,-1.3)};
\addplot[ctr] coordinates {(-1,-0.595) (-0.8,-0.962) (-0.6,-1.376)};
\addplot[ctr] coordinates {(-1,-0.642) (-0.8,-1.024)};
\addplot[ctr] coordinates {(-1,-0.69) (-0.8,-1.086)};
\addplot[ctr] coordinates {(-1,-0.739) (-0.8,-1.151)};
\addplot[ctr] coordinates {(-1,-0.791) (-0.8,-1.219)};
\addplot[ctr] coordinates {(-1,-0.843) (-0.8,-1.287)};
\addplot[ctr] coordinates {(-1,-0.895) (-0.8,-1.355)};
\addplot[ctr] coordinates {(-1,-0.947) (-0.8,-1.423)};
\addplot[ctr] coordinates {(-1,0.76) (-0.9,0.77) (-0.8,0.785) (-0.7,0.81) (-0.6,0.84) (-0.5,0.89) (-0.4,0.96) (-0.3,1.03)};
\addplot[ctr] coordinates {(-1,0.827) (-0.9,0.841) (-0.8,0.863) (-0.7,0.898) (-0.6,0.941) (-0.5,1.012)};
\addplot[ctr] coordinates {(-1,0.888) (-0.9,0.906) (-0.8,0.933) (-0.7,0.978) (-0.6,1.032)};
\addplot[ctr] coordinates {(-1,0.934) (-0.9,0.955) (-0.8,0.987) (-0.7,1.039)};
\addplot[ctr] coordinates {(-1,0.971) (-0.9,0.994) (-0.8,1.029)};
% path of the modified differential equation
\addplot[dashblue, line width=2.3pt, dash pattern=on 6pt off 3.5pt, smooth, mark=none] coordinates {(-0.809,-0.904) (-0.617,-0.822) (-0.425,-0.714) (-0.234,-0.586) (-0.080,-0.429) (0.034,-0.234) (0.130,0.002) (0.188,0.257) (0.211,0.49) (0.216,0.6)};
\addplot[only marks, mark=*, mark size=3.9pt, mark options={fill=odedot, draw=odedotedge, line width=0.6pt}] coordinates {(0.144,0.6)};
\addplot[only marks, mark=*, mark size=3.9pt, mark options={fill=gdcyan, draw=gdcyanedge, line width=0.5pt}] coordinates {(0.216,0.6)};
\end{axis}
\end{tikzpicture}
\end{document}
